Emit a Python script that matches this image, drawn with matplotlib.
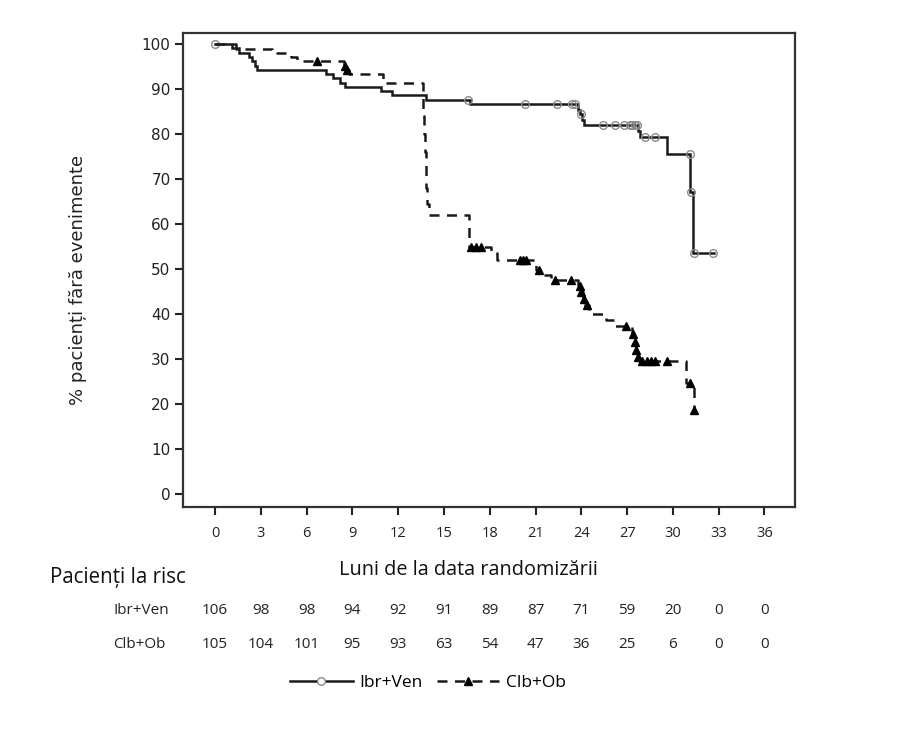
import matplotlib
matplotlib.use("Agg")
import matplotlib.pyplot as plt
from matplotlib.lines import Line2D
import numpy as np

# ---- data ----
ibr_times = [0, 1.1, 1.6, 2.2, 2.4, 2.6, 2.75, 7.3, 7.7, 8.2, 8.5, 10.9, 11.6, 13.8, 16.7,
             23.75, 23.9, 24.05, 24.2, 27.7, 27.85, 29.6, 31.15, 31.3]
ibr_surv = [100, 99.1, 98.1, 97.2, 96.2, 95.3, 94.3, 93.4, 92.5, 91.5, 90.6, 89.6, 88.7, 87.7, 86.7,
            85.5, 84.4, 83.2, 82.0, 80.7, 79.4, 75.7, 67.2, 53.6]
ibr_end = 32.7
ibr_cens = [0, 16.6, 20.3, 22.4, 23.4, 23.6, 24.0, 25.4, 26.2, 26.8, 27.2, 27.35, 27.5, 27.65,
            28.2, 28.85, 31.12, 31.2, 31.4, 32.6]

clb_times = [0, 1.4, 3.7, 5.0, 5.4, 8.45, 8.55, 8.75, 11.0, 11.1,
             13.6, 13.65, 13.7, 13.75, 13.8, 13.85, 13.9, 14.05,
             16.65, 18.1, 18.5, 21.0, 21.5, 22.0,
             23.8, 23.95, 24.1, 24.25, 24.5, 25.6, 26.2,
             27.35, 27.45, 27.55, 27.65, 27.75, 30.85, 31.35]
clb_surv = [100, 99.0, 98.1, 97.1, 96.2, 95.2, 94.2, 93.3, 92.4, 91.4,
            88.0, 84.0, 80.0, 76.0, 72.0, 68.0, 64.5, 62.0,
            55.0, 53.5, 51.9, 49.8, 48.6, 47.5,
            46.2, 44.8, 43.4, 42.0, 40.0, 38.6, 37.2,
            35.5, 33.8, 32.0, 30.3, 29.4, 24.6, 18.7]
clb_end = 31.45
clb_cens = [6.7, 8.5, 8.65, 16.8, 17.1, 17.4, 20.0, 20.2, 20.4, 21.2, 22.3, 23.3,
            23.9, 24.0, 24.15, 24.35, 26.9, 27.4, 27.5, 27.6, 27.7,
            28.0, 28.3, 28.55, 28.85, 29.6, 31.15, 31.4]

risk_months = [0, 3, 6, 9, 12, 15, 18, 21, 24, 27, 30, 33, 36]
risk_ibr = [106, 98, 98, 94, 92, 91, 89, 87, 71, 59, 20, 0, 0]
risk_clb = [105, 104, 101, 95, 93, 63, 54, 47, 36, 25, 6, 0, 0]

xticks = list(range(0, 37, 3))
yticks = list(range(0, 101, 10))

label_ibr = "Ibr+Ven"
label_clb = "Clb+Ob"


def step_value(times, surv, t):
    idx = np.searchsorted(times, t, side="right") - 1
    return surv[max(idx, 0)]


fig = plt.figure(figsize=(9.21, 7.29), dpi=100)
ax = fig.add_axes([0.1987, 0.3045, 0.6645, 0.650])

# Ibr+Ven
xs = ibr_times + [ibr_end]
ys = ibr_surv + [ibr_surv[-1]]
ax.step(xs, ys, where="post", color="#1a1a1a", lw=1.8, solid_joinstyle="miter")
cy = [step_value(ibr_times, ibr_surv, t) for t in ibr_cens]
ax.plot(ibr_cens, cy, linestyle="none", marker="o", ms=5.5, mfc="none", mec="#8a8a8a", mew=1.0)

# Clb+Ob
xs = clb_times + [clb_end]
ys = clb_surv + [clb_surv[-1]]
ax.step(xs, ys, where="post", color="#1a1a1a", lw=1.8, linestyle=(0, (4, 3)))
cy = [step_value(clb_times, clb_surv, t) for t in clb_cens]
ax.plot(clb_cens, cy, linestyle="none", marker="^", ms=5.5, mfc="black", mec="black")

ax.set_xlim(-2.1, 38.0)
ax.set_ylim(-3.0, 102.5)
ax.set_xticks(xticks)
ax.set_yticks(yticks)
ax.tick_params(axis="both", direction="out", length=6, width=1.5, color="#222222")
ax.tick_params(axis="x", pad=8)
ax.tick_params(axis="y", pad=3)
for lab in ax.get_xticklabels():
    lab.set_fontfamily("Open Sans")
    lab.set_fontsize(10.5)
    lab.set_color("#222222")
for lab in ax.get_yticklabels():
    lab.set_fontfamily("DejaVu Sans")
    lab.set_fontsize(11)
    lab.set_color("#222222")
for sp in ax.spines.values():
    sp.set_linewidth(1.6)
    sp.set_color("#333333")

fig.text(78 / 921, 1 - 280 / 729, "% pacienți fără evenimente", rotation=90,
         ha="center", va="center", fontsize=13, family="DejaVu Sans", color="#222222")
fig.text(468 / 921, 1 - 570 / 729, "Luni de la data randomizării", ha="center", va="center",
         fontsize=14.3, family="Open Sans", color="#111111")
fig.text(50 / 921, 1 - 578 / 729, "Pacienți la risc", ha="left", va="center",
         fontsize=14.8, family="Open Sans", color="#111111")

row_y = [1 - 611 / 729, 1 - 645 / 729]
fig.text(113 / 921, row_y[0], label_ibr, ha="left", va="center", fontsize=11,
         family="Open Sans", color="#222222")
fig.text(113 / 921, row_y[1], label_clb, ha="left", va="center", fontsize=11,
         family="Open Sans", color="#222222")
trans = ax.get_xaxis_transform()
ax_bottom_px = 729 * 0.3045
ax_h_px = 729 * 0.650
for m, a, b in zip(risk_months, risk_ibr, risk_clb):
    for val, fy in ((a, row_y[0]), (b, row_y[1])):
        yy = (fy * 729 - ax_bottom_px) / ax_h_px
        ax.text(m, yy, str(val), transform=trans, ha="center", va="center",
                fontsize=11, family="Open Sans", color="#222222", clip_on=False)

handles = [Line2D([], [], color="#1a1a1a", lw=1.8, marker="o", ms=5.5, mfc="white",
                  mec="#8a8a8a"),
           Line2D([], [], color="#1a1a1a", lw=1.8, linestyle=(0, (4, 3)), marker="^",
                  ms=5.5, mfc="black", mec="black")]
fig.legend(handles, [label_ibr, label_clb], loc="center", bbox_to_anchor=(428 / 921, 1 - 683 / 729),
           ncol=2, frameon=False, handlelength=3.6, numpoints=1, columnspacing=0.8,
           handletextpad=0.4, prop={"family": "Open Sans", "size": 12.5})

fig.savefig("out.png", dpi=100, facecolor="white")
